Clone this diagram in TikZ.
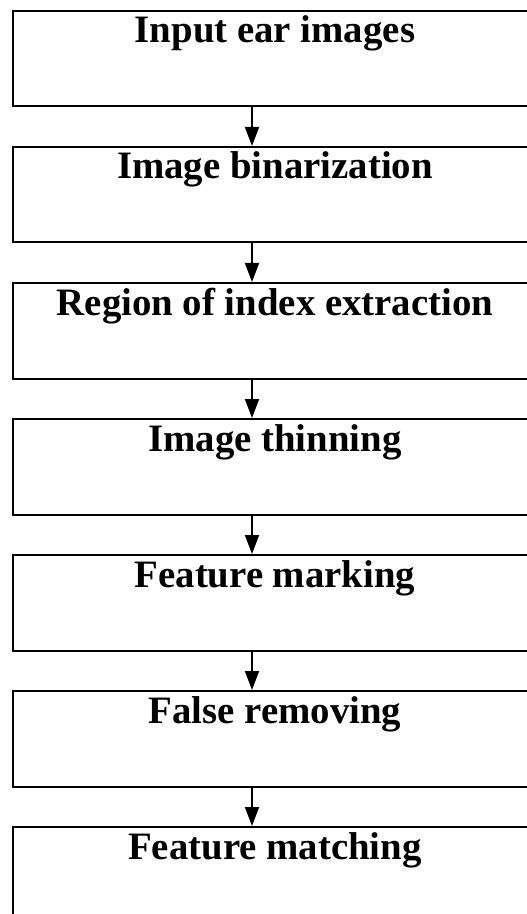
\documentclass[tikz,border=0pt]{standalone}
\usepackage{fontspec}
\setmainfont{Liberation Serif}
\usepackage{tikz}
\usetikzlibrary{positioning,arrows.meta}

\begin{document}
\begin{tikzpicture}[
  node distance=19.25pt,
  box/.style={draw, line width=1pt, inner sep=0pt, minimum width=300pt,
    text height=16pt, text depth=31.75pt, execute at begin node=\hspace*{-38pt},
    font=\fontsize{19.4pt}{23pt}\selectfont\bfseries},
  arr/.style={-{Triangle[length=9.5pt, width=7pt]}, line width=1pt}]
\useasboundingbox (0,0) rectangle (263pt,-457pt);
\node[box, anchor=north] (input) at (156.5pt,-5pt) {Input ear images};
\node[box, below=of input] (binar) {Image binarization};
\node[box, below=of binar] (roi) {Region of index extraction};
\node[box, below=of roi] (thin) {Image thinning};
\node[box, below=of thin] (mark) {Feature marking};
\node[box, below=of mark] (false) {False removing};
\node[box, below=of false] (match) {Feature matching};
\draw[arr] ([xshift=-30.5pt]input.south) -- ([xshift=-30.5pt]binar.north);
\draw[arr] ([xshift=-30.5pt]binar.south) -- ([xshift=-30.5pt]roi.north);
\draw[arr] ([xshift=-30.5pt]roi.south) -- ([xshift=-30.5pt]thin.north);
\draw[arr] ([xshift=-30.5pt]thin.south) -- ([xshift=-30.5pt]mark.north);
\draw[arr] ([xshift=-30.5pt]mark.south) -- ([xshift=-30.5pt]false.north);
\draw[arr] ([xshift=-30.5pt]false.south) -- ([xshift=-30.5pt]match.north);
\end{tikzpicture}
\end{document}
